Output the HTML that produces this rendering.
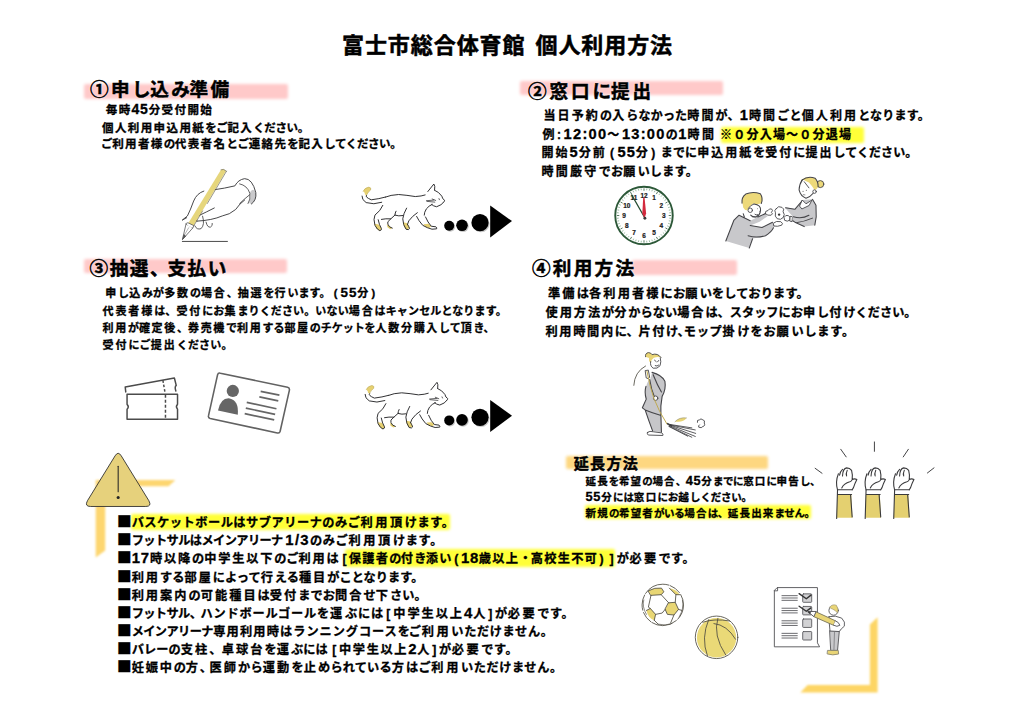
<!DOCTYPE html>
<html lang="ja">
<head>
<meta charset="utf-8">
<title>富士市総合体育館 個人利用方法</title>
<style>
html,body{margin:0;padding:0;background:#fff;}
#page{position:relative;width:1024px;height:724px;overflow:hidden;background:#fff;font-family:"Liberation Sans","Noto Sans CJK JP",sans-serif;font-weight:700;color:#000;}
.t{position:absolute;white-space:nowrap;line-height:1;margin:0;padding:0;font-weight:700;-webkit-text-stroke:0.3px #000;}
h1.t,h2.t{-webkit-text-stroke:0.5px #000;text-shadow:0 0 2px rgba(255,255,255,.9);}
.sq{font-family:"Noto Sans CJK JP",sans-serif;line-height:0;font-size:1.2em;letter-spacing:0;}
.d{font-size:1.22em;line-height:0;letter-spacing:calc(var(--l)*.5);}
.pl{margin:0 .12em 0 .28em;}.pr{margin:0 .3em 0 .12em;}.bl{margin:0 .08em 0 .26em;}.bq{margin:0 .26em 0 .08em;}
.k{letter-spacing:var(--k);}
.hl{position:absolute;border-radius:2px;}
svg.il{position:absolute;overflow:visible;}
</style>
</head>
<body>
<div id="page">
<div class="hl" style="left:83.5px;top:84.0px;width:204.0px;height:14.8px;background:#ffc9c9;filter:blur(1.6px)"></div>
<div class="hl" style="left:519.5px;top:80.5px;width:203.0px;height:14.2px;background:#ffc9c9;filter:blur(1.6px)"></div>
<div class="hl" style="left:83.5px;top:259.3px;width:203.8px;height:13.5px;background:#ffc9c9;filter:blur(1.6px)"></div>
<div class="hl" style="left:632.0px;top:260.0px;width:105.3px;height:15.0px;background:#ffc9c9;filter:blur(1.6px)"></div>
<div class="hl" style="left:721.0px;top:126.9px;width:143.0px;height:16.1px;background:#ffff38;filter:blur(1.6px)"></div>
<div class="hl" style="left:566.0px;top:455.5px;width:202.0px;height:13.7px;background:#fdd780;filter:blur(1.4px)"></div>
<div class="hl" style="left:585.0px;top:504.8px;width:226.0px;height:14.6px;background:#ffff38;filter:blur(1.6px)"></div>
<div class="hl" style="left:130.5px;top:513.8px;width:319.0px;height:16.0px;background:#ffff38;filter:blur(1.6px)"></div>
<div class="hl" style="left:345.4px;top:549.4px;width:269.6px;height:17.2px;background:#ffff38;filter:blur(1.6px)"></div>
<svg class="il" style="left:0;top:0" width="1024" height="724" viewBox="0 0 1024 724">
<g fill="#fdd670" filter="url(#soft)">
<path d="M95.7 480.1 L175.4 480.1 L168.5 486.3 L105.2 486.3 L105.2 550.5 L95.7 557.6 Z"/>
<path d="M877.6 617.2 L877.6 692.6 L800.4 692.6 L807.6 684.9 L869.9 684.9 L869.9 624.4 Z" fill="#fdd565"/>
</g>
<defs><filter id="soft" x="-5%" y="-5%" width="110%" height="110%"><feGaussianBlur stdDeviation="0.8"/></filter></defs>
</svg>
<svg class="il" style="left:75px;top:440px" width="120" height="125" viewBox="0 0 695 724">
<path d="M232 92 Q250 62 268 92 L428 352 Q446 385 410 385 L90 385 Q54 385 72 352 Z" fill="#e6d17c" stroke="#2a2a2a" stroke-width="5" stroke-linejoin="round"/>
<path d="M250 152 L250 300" stroke="#222" stroke-width="6" stroke-linecap="round" fill="none"/>
<circle cx="250" cy="333" r="9" fill="#222"/>
</svg>
<svg class="il" style="left:0;top:0" width="1024" height="724" viewBox="0 0 1024 724">
<defs><g id="dots">
<g fill="#9a9a9a" opacity=".55"><circle cx="450.2" cy="226.8" r="5"/><circle cx="463" cy="226.3" r="5.8"/><circle cx="481" cy="223.7" r="8.6"/></g>
<g fill="#000"><circle cx="449.2" cy="225.8" r="5"/><circle cx="462" cy="225.3" r="5.8"/><circle cx="480" cy="222.7" r="8.6"/>
<path d="M490.2 205.5 L490.2 237.5 L512 221.1 Z"/></g>
</g></defs>
<use href="#dots"/>
<use href="#dots" transform="translate(0 194.6)"/>
</svg>
<svg class="il" style="left:115px;top:365px" width="190" height="75" viewBox="0 0 1024 404" fill="none" stroke="#4b4b4b" stroke-width="8" stroke-linejoin="round" stroke-linecap="round">
<path d="M58 145 L55 118 L320 70 L330 110 Q320 118 328 140"/>
<path d="M258 82 L270 150" stroke-dasharray="14 10" stroke-linecap="butt"/>
<path d="M65 158 L337 158 L337 212 Q325 225 337 238 L337 292 L65 292 L65 238 Q78 225 65 212 Z" fill="#fff"/>
<path d="M272 160 L272 292" stroke-dasharray="16 11" stroke-linecap="butt"/>
<g stroke="#626262" stroke-width="8.5">
<path d="M568 44 L930 120 Q942 123 940 135 L890 357 Q887 369 875 366 L513 288 Q501 285 504 273 L553 52 Q556 41 568 44 Z" fill="#fff"/>
</g>
<g fill="#666" stroke="none">
<circle cx="635" cy="140" r="33"/>
<path d="M555 245 Q570 175 618 180 Q668 190 662 268 Z"/>
</g>
<g stroke="#666" stroke-width="9" stroke-linecap="butt">
<path d="M785 142 L886 162"/><path d="M778 172 L880 193"/><path d="M710 201 L870 236"/><path d="M705 232 L863 266"/><path d="M699 262 L858 296"/>
</g>
</svg>
<svg class="il" style="left:600px;top:175px" width="90" height="81" viewBox="0 0 804 724">
<circle cx="393" cy="362" r="257" fill="#fff" stroke="#2c5838" stroke-width="17"/>
<path d="M418.4 120.3 L416.7 136.2 M443.5 124.3 L440.2 140.0 M468.1 130.9 L463.1 146.1 M491.8 140.0 L485.3 154.6 M535.8 165.4 L526.4 178.4 M555.6 181.4 L544.9 193.3 M573.6 199.4 L561.7 210.1 M589.6 219.2 L576.6 228.6 M615.0 263.2 L600.4 269.7 M624.1 286.9 L608.9 291.9 M630.7 311.5 L615.0 314.8 M634.7 336.6 L618.8 338.3 M634.7 387.4 L618.8 385.7 M630.7 412.5 L615.0 409.2 M624.1 437.1 L608.9 432.1 M615.0 460.8 L600.4 454.3 M589.6 504.8 L576.6 495.4 M573.6 524.6 L561.7 513.9 M555.6 542.6 L544.9 530.7 M535.8 558.6 L526.4 545.6 M491.8 584.0 L485.3 569.4 M468.1 593.1 L463.1 577.9 M443.5 599.7 L440.2 584.0 M418.4 603.7 L416.7 587.8 M367.6 603.7 L369.3 587.8 M342.5 599.7 L345.8 584.0 M317.9 593.1 L322.9 577.9 M294.2 584.0 L300.7 569.4 M250.2 558.6 L259.6 545.6 M230.4 542.6 L241.1 530.7 M212.4 524.6 L224.3 513.9 M196.4 504.8 L209.4 495.4 M171.0 460.8 L185.6 454.3 M161.9 437.1 L177.1 432.1 M155.3 412.5 L171.0 409.2 M151.3 387.4 L167.2 385.7 M151.3 336.6 L167.2 338.3 M155.3 311.5 L171.0 314.8 M161.9 286.9 L177.1 291.9 M171.0 263.2 L185.6 269.7 M196.4 219.2 L209.4 228.6 M212.4 199.4 L224.3 210.1 M230.4 181.4 L241.1 193.3 M250.2 165.4 L259.6 178.4 M294.2 140.0 L300.7 154.6 M317.9 130.9 L322.9 146.1 M342.5 124.3 L345.8 140.0 M367.6 120.3 L369.3 136.2" stroke="#4f8a5e" stroke-width="5" fill="none"/>
<path d="M393.0 119.0 L393.0 141.0 M514.5 151.6 L503.5 170.6 M603.4 240.5 L584.4 251.5 M636.0 362.0 L614.0 362.0 M603.4 483.5 L584.4 472.5 M514.5 572.4 L503.5 553.4 M393.0 605.0 L393.0 583.0 M271.5 572.4 L282.5 553.4 M182.6 483.5 L201.6 472.5 M150.0 362.0 L172.0 362.0 M182.6 240.5 L201.6 251.5 M271.5 151.6 L282.5 170.6" stroke="#2c5838" stroke-width="7" fill="none"/>
<g font-family="&quot;Liberation Sans&quot;,sans-serif" font-weight="700" font-size="58" fill="#1c1c1c" stroke="#1c1c1c" stroke-width="2" text-anchor="middle">
<text x="482.0" y="227.8">1</text>
<text x="547.2" y="293.0">2</text>
<text x="571.0" y="382.0">3</text>
<text x="547.2" y="471.0">4</text>
<text x="482.0" y="536.2">5</text>
<text x="393.0" y="560.0">6</text>
<text x="304.0" y="536.2">7</text>
<text x="238.8" y="471.0">8</text>
<text x="215.0" y="382.0">9</text>
<text x="238.8" y="293.0">10</text>
<text x="304.0" y="227.8">11</text>
<text x="393.0" y="204.0">12</text>
</g>
<path d="M401 384 L283 178" stroke="#264d33" stroke-width="11" stroke-linecap="round"/>
<path d="M378 345 L386 200 L398 200 L412 345 L398 388 Z" fill="#d32a3e"/>
<circle cx="401" cy="387" r="13" fill="#3a3a3a"/>
</svg>
<svg class="il" style="left:630px;top:575px" width="120" height="95" viewBox="0 0 915 724" fill="none" stroke="#4f4c42" stroke-width="6.5" stroke-linecap="round" stroke-linejoin="round">
<!-- soccer -->
<g fill="#e8d674" stroke="none">
<path d="M140 120 Q190 92 240 100 L258 128 L238 150 L160 155 Z"/>
<path d="M295 212 L345 208 L370 262 L335 305 L285 300 L268 262 Z"/>
<path d="M125 270 L155 255 L195 300 L185 345 Q140 330 125 270 Z"/>
<path d="M300 100 Q350 105 380 150 L350 150 Z"/>
</g>
<circle cx="250" cy="228" r="158" stroke-dasharray="120 14 200 10 90 18"/>
<path d="M105 190 Q90 240 125 300 M400 190 Q415 250 375 320 M215 375 Q270 390 320 370" stroke-width="5"/>
<path d="M140 120 Q190 92 240 100 L258 128 L238 150 L160 155 Z"/>
<path d="M295 212 L345 208 L370 262 L335 305 L285 300 L268 262 Z"/>
<path d="M125 270 L155 255 L195 300 L185 345"/>
<path d="M300 100 L350 150 L380 150"/>
<path d="M160 155 L140 245 L155 255 M238 150 L295 212 M350 150 L345 208 M370 262 L395 270 M195 300 L245 290 L268 262 M335 305 L310 365 M185 345 L215 375"/>
<!-- basketball -->
<circle cx="660" cy="478" r="150" fill="#ead977" stroke="none"/>
<circle cx="660" cy="475" r="162"/>
<path d="M555 360 Q640 330 760 350 M600 340 Q540 480 590 615 M670 330 Q630 460 730 610 M640 370 Q740 380 805 490"/>
</svg>
<svg class="il" style="left:800px;top:432px" width="150" height="95" viewBox="0 0 1024 649" fill="none" stroke="#3a3a3c" stroke-width="7.5" stroke-linecap="round" stroke-linejoin="round">
<defs><g id="fist">
<path d="M255 427 L350 427 L358 585 L250 585 Z" fill="#e4d070" stroke="none"/>
<path d="M250 590 L256 395 L356 395 M345 427 L356 580 M256 427 L352 427"/>
<path d="M256 395 Q240 340 262 285 M270 295 Q275 268 290 255 M290 300 Q292 250 318 245 Q340 245 352 262 Q360 290 356 325 Q372 315 388 325 Q375 350 365 380 L356 395 M322 262 Q312 285 318 300 M285 382 Q300 350 340 340 Q352 336 356 325"/>
</g></defs>
<use href="#fist"/><use href="#fist" x="195"/><use href="#fist" x="390"/>
<path d="M278 118 L315 170 M508 68 L508 132 M740 118 L705 170 M103 248 L150 282 M915 245 L870 280" stroke-width="6.5"/>
</svg>
<svg class="il" style="left:170px;top:160px" width="100" height="90" viewBox="0 0 804 724" fill="none" stroke="#3a3a3c" stroke-width="7.5" stroke-linecap="round" stroke-linejoin="round">
<!-- cuff shading -->
<path d="M642 262 Q668 215 690 262 Q698 320 655 354 Q628 350 640 330 Q655 300 642 262 Z" fill="#c9c9cb" stroke="none"/>
<!-- back of hand + cuff -->
<path d="M352 240 Q440 228 522 208 Q548 158 600 150 Q662 150 690 262 Q698 322 655 354"/>
<path d="M560 192 Q622 205 642 268 Q650 318 628 350" stroke-width="6.5"/>
<path d="M640 280 Q590 320 560 350" stroke-width="6.5"/>
<path d="M600 322 Q560 350 528 398 Q480 440 420 450 Q340 485 215 492"/>
<!-- index finger -->
<path d="M272 250 Q215 268 190 330 Q165 400 140 450 L98 484 L134 464"/>
<!-- middle finger -->
<path d="M356 386 Q300 415 222 452 Q196 470 215 492"/>
<!-- curled fingers -->
<path d="M262 452 Q282 520 250 552 Q215 565 200 530" stroke-width="6.5"/>
<path d="M290 500 Q300 545 325 540 Q345 530 340 510" stroke-width="6.5"/>
<!-- pencil body -->
<path d="M410 78 Q432 68 450 88 L190 526 L148 506 Z" fill="#e6d67c" stroke="none"/>
<path d="M454 90 L300 350 M262 410 L192 528" stroke-width="5" stroke="#5d5a48"/>
<path d="M410 78 Q432 66 454 90" stroke-width="5" stroke="#5d5a48"/>
<!-- ferrule and tip -->
<path d="M128 515 Q150 545 182 548 L192 528 L146 506 Z" fill="#fff" stroke-width="5.5"/>
<path d="M128 518 L100 640 L182 548" fill="#fff" stroke-width="5.5"/>
<path d="M112 600 L100 640 L128 612" fill="#555" stroke-width="3"/>
<path d="M150 545 L112 610" stroke-width="3"/>
<!-- line -->
<path d="M96 655 L465 655" stroke-width="8" stroke="#4a4a4a" stroke-linecap="butt"/>
</svg>
<svg class="il" style="left:0;top:0" width="1024" height="724" viewBox="0 0 1024 724">
<defs><g id="cat" fill="none" stroke="#2c2c2e" stroke-width="10.5" stroke-linecap="round" stroke-linejoin="round">
<g fill="#e6d070" stroke="none">
<path d="M88 142 Q100 108 150 98 Q180 105 168 130 Q140 150 122 188 Q100 180 104 160 Z"/>
<path d="M738 498 L792 494 L822 520 L800 538 L760 528 Z"/>
<path d="M518 478 L566 488 L588 540 L556 558 L528 522 Z"/>
<path d="M343 498 L372 520 L402 540 L380 552 L350 532 Z"/>
<path d="M208 494 L256 500 L287 545 L266 572 L234 546 Z"/>
</g>
<path d="M88 142 Q100 108 150 98 Q180 105 168 130 Q140 150 122 188" stroke="#b9a85a" stroke-width="6"/>
<path d="M122 188 Q105 205 175 235 Q260 225 330 205"/>
<path d="M75 195 Q72 235 120 265 Q200 292 288 262"/>
<path d="M330 205 Q380 183 470 178 Q560 185 650 200 Q720 196 756 183"/>
<path d="M785 146 L850 65 Q866 80 858 130"/>
<path d="M858 132 Q905 150 936 196 Q942 228 966 240 Q965 255 955 262"/>
<path d="M955 262 Q935 292 880 310 Q845 304 826 286"/>
<path d="M832 284 Q795 300 770 332 Q745 370 746 400"/>
<path d="M770 245 L850 238 M776 252 L860 260 M832 226 L870 242" stroke-width="8"/>
<path d="M905 222 L910 234" stroke-width="8"/>
<path d="M760 420 Q785 480 822 520 L872 526 Q886 538 880 548 L830 552 Q780 540 730 510 Q685 460 664 414"/>
<path d="M672 374 Q615 412 580 462 L566 500"/>
<path d="M556 325 Q522 385 515 440 Q518 510 550 552 Q580 565 588 545 Q582 525 566 500"/>
<path d="M515 405 Q470 414 430 400 Q432 378 442 358"/>
<path d="M430 400 Q380 445 354 472 Q345 495 372 526 L402 540"/>
<path d="M385 440 Q330 436 285 446"/>
<path d="M300 295 Q275 355 215 400 Q195 440 215 510 Q240 560 268 568 Q292 560 284 544 Q262 510 250 450"/>
</g></defs>
<g transform="translate(355 178) scale(0.09277)"><use href="#cat"/></g>
<g transform="translate(358.1 376.3) scale(0.09277)"><use href="#cat"/></g>
</svg>
<svg class="il" style="left:715px;top:170px" width="120" height="85" viewBox="0 0 1022 724" fill="none" stroke="#444448" stroke-width="9" stroke-linecap="round" stroke-linejoin="round">
<!-- left person body -->
<path d="M205 385 L300 432 L365 400 L425 372 L448 395 L380 440 L300 472 L400 490 L490 445 L508 480 Q470 545 400 570 L320 584 L292 665 L92 605 L160 430 Z" fill="#c8c8cb" stroke="none"/>
<path d="M205 385 L160 430 L92 605 M320 586 L292 665 M300 472 L400 490 L490 445 M282 560 Q350 582 430 560 Q480 530 498 492 M205 385 L300 432 M240 372 L250 400 M365 400 L428 372"/>
<!-- left head -->
<path d="M300 300 Q350 280 385 320 Q392 360 362 396 Q325 408 302 372 Z" fill="#fff" stroke="none"/>
<path d="M236 292 Q220 250 250 212 Q310 182 382 200 Q412 235 400 276 Q372 300 330 286 Q296 300 276 342 Q255 348 240 320 Z" fill="#edd97a" stroke="none"/>
<path d="M230 282 Q224 232 262 205 Q320 180 386 202 Q412 240 394 286" />
<path d="M332 290 Q392 298 388 342 Q384 382 356 398 Q326 408 304 384"/>
<circle cx="300" cy="343" r="19" fill="#fff" stroke-width="7.5"/>
<path d="M330 290 Q300 300 285 325 M320 398 Q350 408 368 385 M340 378 Q350 388 362 380" stroke-width="7.5"/>
<circle cx="362" cy="330" r="4" fill="#555" stroke="none"/><circle cx="380" cy="352" r="4" fill="#555" stroke="none"/>
<!-- hands + object -->
<g fill="#fff" stroke-width="7.5">
<path d="M428 372 Q425 345 452 345 Q462 325 482 332 Q498 345 480 362 Q500 372 478 385 Q450 392 428 372 Z"/>
<path d="M498 452 Q520 430 560 440 Q585 455 568 470 Q530 485 505 478 Z"/>
<path d="M520 330 Q540 300 570 318 Q595 330 580 355 Q600 380 580 405 Q560 430 530 415 Q505 395 515 365 Q500 345 520 330 Z"/>
<path d="M590 400 Q600 380 625 388 Q645 400 640 425 Q615 445 595 430 Z"/>
<path d="M642 395 L660 398 L656 440 L640 436 Z"/>
</g>
<circle cx="546" cy="380" r="10" fill="#333" stroke="none"/>
<!-- right person body -->
<path d="M745 255 L830 250 L860 300 L862 400 L850 470 L760 482 L690 450 L662 432 L660 395 L600 325 L606 318 L680 335 Z" fill="#c8c8cb" stroke="none"/>
<path d="M830 250 L860 300 L862 400 L850 470 M760 482 L690 450 L662 432 M600 322 L680 335 L742 262 M668 398 Q740 420 800 385 M690 450 Q760 440 830 410" />
<path d="M745 258 L775 288 L826 256 L802 302 L740 332 L722 310 Z" fill="#fff" stroke-width="7.5"/>
<!-- right head -->
<path d="M745 80 Q715 120 715 170 Q730 225 775 240 Q815 228 838 195 L850 120 L790 70 Z" fill="#fff" stroke="none"/>
<circle cx="897" cy="120" r="30" fill="#edd97a" stroke-width="7.5"/>
<path d="M745 76 Q790 50 850 70 Q884 105 876 150 Q862 172 848 170 Q832 140 800 106 Q772 96 745 76 Z" fill="#edd97a" stroke="none"/>
<path d="M738 88 Q790 48 852 70 Q880 100 878 140"/>
<path d="M745 82 Q718 120 716 170 Q730 225 775 240 Q812 230 836 198" />
<circle cx="848" cy="184" r="15" fill="#fff" stroke-width="7.5"/>
<path d="M760 100 L800 152" stroke-width="7.5"/>
<circle cx="750" cy="182" r="4.5" fill="#555" stroke="none"/><circle cx="778" cy="172" r="4.5" fill="#555" stroke="none"/>
<path d="M752 210 L766 212" stroke-width="5"/>
</svg>
<svg class="il" style="left:620px;top:345px" width="100" height="100" viewBox="0 0 724 724" fill="none" stroke="#444448" stroke-width="8" stroke-linecap="round" stroke-linejoin="round">
<!-- motion arc -->
<path d="M100 292 Q105 195 185 152" stroke="#66645a" stroke-width="7"/>
<!-- body -->
<path d="M232 198 Q300 215 325 262 Q335 320 305 372 Q292 440 296 505 L300 632 L236 622 Q205 540 182 470 L162 455 L190 392 Q175 340 188 300 Q200 260 222 240 Z" fill="#c6c6c9" stroke="none"/>
<path d="M232 198 Q300 215 325 262 Q335 320 305 372 Q292 440 296 505 L300 632 M236 622 Q205 540 182 470 L162 455 L190 392 Q175 340 188 300 M240 215 Q270 290 300 340 M215 250 Q225 320 250 378 M182 470 Q230 490 292 508"/>
<!-- head -->
<circle cx="252" cy="125" r="42" fill="#fff" stroke="none"/>
<path d="M185 85 Q180 60 205 55 Q225 55 232 70 Q270 55 298 90 Q270 82 245 92 Q225 105 222 130 Q205 115 210 95 Z" fill="#e9d576" stroke="none"/>
<path d="M185 85 Q180 60 205 55 Q225 55 232 70 Q272 55 298 92" stroke-width="6.5"/>
<path d="M222 120 Q215 150 240 168 Q270 175 290 150 Q300 120 292 95" stroke-width="6.5"/>
<path d="M250 110 L262 120 M280 112 L272 122 M255 150 Q268 158 280 146" stroke-width="6.5"/>
<!-- hand on handle -->
<path d="M185 185 L205 182 L215 235 Q205 250 192 240 Z" fill="#fff" stroke-width="6.5"/>
<circle cx="258" cy="385" r="16" fill="#fff" stroke-width="6.5"/>
<!-- broom handle -->
<path d="M195 190 Q215 300 245 385 Q280 480 340 572" stroke="#bfa94e" stroke-width="7"/>
<!-- feet -->
<path d="M200 632 Q215 620 240 628 L300 636 Q318 645 310 655 L205 652 Q192 645 200 632 Z" fill="#fff" stroke-width="6.5"/>
<!-- broom head -->
<path d="M345 570 L372 585" stroke="#444" stroke-width="12"/>
<path d="M360 578 L545 615 M360 580 L548 640 M358 584 L545 662 M356 588 L520 668 M354 590 L490 660 M365 576 L520 600" stroke="#3c3c40" stroke-width="6"/>
<!-- leaf -->
<path d="M398 555 Q430 520 480 528 Q465 555 420 556 Z" fill="#e9d576" stroke="none"/>
<path d="M398 555 Q430 520 482 528" stroke="#8a8670" stroke-width="4"/>
<!-- dust -->
<path d="M560 560 Q555 540 575 542 Q585 528 600 542 Q618 545 610 565 Q620 585 600 590 Q590 605 570 595 Q565 585 575 578" stroke-width="6.5"/>
</svg>
<svg class="il" style="left:760px;top:575px" width="140" height="130" viewBox="0 0 780 724" fill="none" stroke="#505054" stroke-width="5" stroke-linecap="round" stroke-linejoin="round">
<path d="M98 70 L320 70 L320 378 L332 400 L80 400 L80 88 Z" fill="#fff"/>
<path d="M80 88 L98 88 L98 70" stroke-width="5"/>
<g stroke="#5a5a5e" stroke-width="5" stroke-linecap="butt">
<path d="M120 115 H210 M120 128 H210 M120 141 H210 M120 185 H210 M120 198 H210 M120 211 H210 M120 255 H210 M120 268 H210 M120 281 H210 M120 325 H210 M120 338 H210 M120 351 H210"/>
</g>
<g fill="#d2d2d4" stroke="#5a5a5e" stroke-width="5">
<rect x="238" y="105" width="50" height="47" rx="4"/><rect x="238" y="175" width="50" height="47" rx="4"/><rect x="238" y="245" width="50" height="47" rx="4"/><rect x="238" y="315" width="50" height="47" rx="4"/>
</g>
<path d="M218 104 L258 132 L284 112 M218 174 L258 202 L282 184" stroke="#333" stroke-width="8"/>
<!-- person -->
<path d="M390 310 L442 312 L432 420 L396 420 Z" fill="#c9c9cc" stroke-width="5"/>
<path d="M415 320 L412 415" stroke-width="3"/>
<path d="M385 232 Q420 222 455 240 Q478 262 470 285 Q450 300 442 315 L390 312 Q385 270 385 232 Z" fill="#fff" stroke-width="5"/>
<path d="M378 420 L436 420 L438 440 Q405 450 376 440 Z" fill="#e9d576" stroke="#8a8670" stroke-width="5"/>
<circle cx="410" cy="198" r="26" fill="#fff" stroke-width="5"/>
<path d="M388 180 Q400 160 425 168 Q440 185 432 212 Q420 195 405 190 Q395 188 388 180 Z" fill="#e9d576" stroke="#8a8670" stroke-width="3"/>
<!-- big pencil -->
<path d="M312 205 L420 255 L410 280 L300 232 Z" fill="#e9d576" stroke="#77735a" stroke-width="5"/>
<path d="M312 205 L300 232 L268 205 Z" fill="#fff" stroke-width="5"/>
<path d="M268 205 L282 207 L278 215 Z" fill="#333" stroke="#333" stroke-width="3"/>
<path d="M420 255 Q440 262 445 280 Q430 292 410 280" fill="#fff" stroke-width="5"/>
</svg>
<h1 class="t" id="title" style="left:342.00px;top:34.90px;font-size:22px;letter-spacing:0.929px;--l:0.929px;--k:-2.213px;word-spacing:3px;">富士市総合体育館 個人利用方法</h1>
<h2 class="t" id="h1" style="left:90.00px;top:81.33px;font-size:18.6px;letter-spacing:2.445px;--l:2.445px;--k:-0.438px;">①申<span class="k">し</span>込<span class="k">み</span>準備</h2>
<h2 class="t" id="h2" style="left:528.00px;top:82.63px;font-size:18.6px;letter-spacing:2.879px;--l:2.879px;--k:-0.064px;">②窓口<span class="k">に</span>提出</h2>
<h2 class="t" id="h3" style="left:89.50px;top:259.53px;font-size:18.6px;letter-spacing:1.572px;--l:1.572px;--k:-1.192px;">③抽選<span class="k">、</span>支払<span class="k">い</span></h2>
<h2 class="t" id="h4" style="left:532.00px;top:260.13px;font-size:18.6px;letter-spacing:2.250px;--l:2.250px;--k:-0.606px;">④利用方法</h2>
<p class="t" id="a1" style="left:105.75px;top:105.33px;font-size:11.5px;letter-spacing:1.429px;--l:1.429px;--k:-0.343px;">毎時<span class="d">45</span>分受付開始</p>
<p class="t" id="a2" style="left:102.00px;top:122.83px;font-size:11.5px;letter-spacing:1.396px;--l:1.396px;--k:-0.371px;">個人利用申込用紙<span class="k">をご</span>記入<span class="k">ください。</span></p>
<p class="t" id="a3" style="left:101.00px;top:138.57px;font-size:11.5px;letter-spacing:1.387px;--l:1.387px;--k:-0.379px;"><span class="k">ご</span>利用者様<span class="k">の</span>代表者名<span class="k">とご</span>連絡先<span class="k">を</span>記入<span class="k">してください。</span></p>
<p class="t" id="b1" style="left:543.40px;top:110.20px;font-size:12px;letter-spacing:2.136px;--l:2.136px;--k:0.200px;">当日予約<span class="k">の</span>入<span class="k">らなかった</span>時間<span class="k">が、</span><span class="d">1</span>時間<span class="k">ごと</span>個人利用<span class="k">となります。</span></p>
<p class="t" id="b2" style="left:542.50px;top:129.00px;font-size:12px;letter-spacing:2.535px;--l:2.535px;--k:0.543px;">例:<span class="d">12:00</span>～<span class="d">13:00</span><span class="k">の</span><span class="d">1</span>時間</p>
<p class="t" id="b2b" style="left:720.00px;top:129.00px;font-size:12px;letter-spacing:1.222px;--l:1.222px;--k:-0.589px;">※０分入場～０分退場</p>
<p class="t" id="b3" style="left:541.50px;top:147.00px;font-size:12px;letter-spacing:2.011px;--l:2.011px;--k:0.092px;">開始<span class="d">5</span>分前<span class="pl">(</span><span class="d">55</span>分<span class="pr">)</span><span class="k">までに</span>申込用紙<span class="k">を</span>受付<span class="k">に</span>提出<span class="k">してください。</span></p>
<p class="t" id="b4" style="left:541.50px;top:165.60px;font-size:12px;letter-spacing:2.291px;--l:2.291px;--k:0.333px;">時間厳守<span class="k">でお</span>願<span class="k">いします。</span></p>
<p class="t" id="c1" style="left:105.25px;top:288.05px;font-size:11px;letter-spacing:1.842px;--l:1.842px;--k:0.083px;">申<span class="k">し</span>込<span class="k">みが</span>多数<span class="k">の</span>場合<span class="k">、</span>抽選<span class="k">を</span>行<span class="k">います。</span><span class="pl">(</span><span class="d">55</span>分<span class="pr">)</span></p>
<p class="t" id="c2" style="left:102.50px;top:306.30px;font-size:11px;letter-spacing:1.906px;--l:1.906px;--k:0.137px;">代表者様<span class="k">は、</span>受付<span class="k">にお</span>集<span class="k">まりください。いない</span>場合<span class="k">はキャンセルとなります。</span></p>
<p class="t" id="c3" style="left:102.50px;top:323.05px;font-size:11px;letter-spacing:1.703px;--l:1.703px;--k:-0.037px;">利用<span class="k">が</span>確定後<span class="k">、</span>券売機<span class="k">で</span>利用<span class="k">する</span>部屋<span class="k">のチケットを</span>人数分購入<span class="k">して</span>頂<span class="k">き、</span></p>
<p class="t" id="c4" style="left:102.50px;top:339.55px;font-size:11px;letter-spacing:1.991px;--l:1.991px;--k:0.211px;">受付<span class="k">にご</span>提出<span class="k">ください。</span></p>
<p class="t" id="d1" style="left:548.00px;top:288.26px;font-size:12.2px;letter-spacing:2.132px;--l:2.132px;--k:0.168px;">準備<span class="k">は</span>各利用者様<span class="k">にお</span>願<span class="k">いをしております。</span></p>
<p class="t" id="d2" style="left:545.50px;top:306.51px;font-size:12.2px;letter-spacing:1.940px;--l:1.940px;--k:0.003px;">使用方法<span class="k">が</span>分<span class="k">からない</span>場合<span class="k">は、スタッフにお</span>申<span class="k">し</span>付<span class="k">けください。</span></p>
<p class="t" id="d3" style="left:545.50px;top:325.76px;font-size:12.2px;letter-spacing:1.672px;--l:1.672px;--k:-0.229px;">利用時間内<span class="k">に、</span>片付<span class="k">け、</span></p>
<p class="t" id="d3b" style="left:683.70px;top:325.76px;font-size:12.2px;letter-spacing:2.821px;--l:2.821px;--k:0.763px;"><span class="k">モップ</span>掛<span class="k">けをお</span>願<span class="k">いします。</span></p>
<h2 class="t" id="eh" style="left:573.75px;top:456.25px;font-size:15px;letter-spacing:1.333px;--l:1.333px;--k:-0.904px;">延長方法</h2>
<p class="t" id="e1" style="left:585.50px;top:475.77px;font-size:10.5px;letter-spacing:1.172px;--l:1.172px;--k:-0.427px;">延長<span class="k">を</span>希望<span class="k">の</span>場合<span class="k">、</span><span class="d">45</span>分<span class="k">までに</span>窓口<span class="k">に</span>申告<span class="k">し、</span></p>
<p class="t" id="e2" style="left:585.50px;top:492.27px;font-size:10.5px;letter-spacing:1.425px;--l:1.425px;--k:-0.209px;"><span class="d">55</span>分<span class="k">には</span>窓口<span class="k">にお</span>越<span class="k">しください。</span></p>
<p class="t" id="e3" style="left:585.50px;top:507.77px;font-size:10.5px;letter-spacing:1.181px;--l:1.181px;--k:-0.419px;">新規<span class="k">の</span>希望者<span class="k">がいる</span>場合<span class="k">は、</span>延長出来<span class="k">ません。</span></p>
<p class="t" id="n1" style="left:117.00px;top:516.51px;font-size:12.2px;letter-spacing:2.547px;--l:2.547px;--k:0.527px;"><span class="sq">■</span><span class="k">バスケットボールはサブアリーナのみご</span>利用頂<span class="k">けます。</span></p>
<p class="t" id="n2" style="left:117.00px;top:534.51px;font-size:12.2px;letter-spacing:1.284px;--l:1.284px;--k:-0.564px;"><span class="sq">■</span><span class="k">フットサルはメインアリーナ</span></p>
<p class="t" id="n2b" style="left:285.30px;top:534.51px;font-size:12.2px;letter-spacing:2.662px;--l:2.662px;--k:0.626px;"><span class="d">1/3</span><span class="k">のみご</span>利用頂<span class="k">けます。</span></p>
<p class="t" id="n3" style="left:117.00px;top:552.76px;font-size:12.2px;letter-spacing:1.827px;--l:1.827px;--k:-0.095px;"><span class="sq">■</span><span class="d">17</span>時以降<span class="k">の</span>中学生以下<span class="k">のご</span>利用<span class="k">は</span></p>
<p class="t" id="n3b" style="left:339.30px;top:552.76px;font-size:12.2px;letter-spacing:1.261px;--l:1.261px;--k:-0.583px;"><span class="bl">[</span>保護者<span class="k">の</span>付<span class="k">き</span>添<span class="k">い</span><span class="pl">(</span><span class="d">18</span>歳以上<span class="k">・</span>高校生不可<span class="pr">)</span><span class="bq">]</span></p>
<p class="t" id="n3c" style="left:616.80px;top:552.76px;font-size:12.2px;letter-spacing:2.381px;--l:2.381px;--k:0.383px;"><span class="k">が</span>必要<span class="k">です。</span></p>
<p class="t" id="n4" style="left:117.00px;top:571.51px;font-size:12.2px;letter-spacing:1.970px;--l:1.970px;--k:0.029px;"><span class="sq">■</span>利用<span class="k">する</span>部屋<span class="k">によって</span>行<span class="k">える</span>種目<span class="k">がことなります。</span></p>
<p class="t" id="n5" style="left:117.00px;top:589.51px;font-size:12.2px;letter-spacing:2.022px;--l:2.022px;--k:0.074px;"><span class="sq">■</span>利用案内<span class="k">の</span>可能種目<span class="k">は</span>受付<span class="k">までお</span>問合<span class="k">せ</span>下<span class="k">さい。</span></p>
<p class="t" id="n6" style="left:117.00px;top:607.51px;font-size:12.2px;letter-spacing:1.275px;--l:1.275px;--k:-0.571px;"><span class="sq">■</span><span class="k">フットサル、</span></p>
<p class="t" id="n6b" style="left:200.50px;top:607.51px;font-size:12.2px;letter-spacing:2.852px;--l:2.852px;--k:0.790px;"><span class="k">ハンドボールゴールを</span>運<span class="k">ぶには</span></p>
<p class="t" id="n6c" style="left:383.10px;top:607.51px;font-size:12.2px;letter-spacing:1.947px;--l:1.947px;--k:0.009px;"><span class="bl">[</span>中学生以上<span class="d">4</span>人<span class="bq">]</span></p>
<p class="t" id="n6d" style="left:495.00px;top:607.51px;font-size:12.2px;letter-spacing:2.561px;--l:2.561px;--k:0.538px;"><span class="k">が</span>必要<span class="k">です。</span></p>
<p class="t" id="n7" style="left:117.00px;top:625.76px;font-size:12.2px;letter-spacing:1.258px;--l:1.258px;--k:-0.586px;"><span class="sq">■</span><span class="k">メインアリーナ</span></p>
<p class="t" id="n7b" style="left:213.20px;top:625.76px;font-size:12.2px;letter-spacing:1.193px;--l:1.193px;--k:-0.642px;">専用利用時<span class="k">は</span></p>
<p class="t" id="n7c" style="left:293.30px;top:625.76px;font-size:12.2px;letter-spacing:3.015px;--l:3.015px;--k:0.930px;"><span class="k">ランニングコースを</span></p>
<p class="t" id="n7d" style="left:408.80px;top:625.76px;font-size:12.2px;letter-spacing:2.669px;--l:2.669px;--k:0.632px;"><span class="k">ご</span>利用<span class="k">いただけません。</span></p>
<p class="t" id="n8" style="left:117.00px;top:644.01px;font-size:12.2px;letter-spacing:2.063px;--l:2.063px;--k:0.109px;"><span class="sq">■</span><span class="k">バレーの</span>支柱<span class="k">、</span>卓球台<span class="k">を</span>運<span class="k">ぶには</span></p>
<p class="t" id="n8b" style="left:329.00px;top:644.01px;font-size:12.2px;letter-spacing:1.680px;--l:1.680px;--k:-0.222px;"><span class="bl">[</span>中学生以上<span class="d">2</span>人<span class="bq">]</span></p>
<p class="t" id="n8c" style="left:439.10px;top:644.01px;font-size:12.2px;letter-spacing:2.561px;--l:2.561px;--k:0.538px;"><span class="k">が</span>必要<span class="k">です。</span></p>
<p class="t" id="n9" style="left:117.00px;top:662.01px;font-size:12.2px;letter-spacing:1.816px;--l:1.816px;--k:-0.104px;"><span class="sq">■</span>妊娠中<span class="k">の</span>方<span class="k">、</span></p>
<p class="t" id="n9b" style="left:209.50px;top:662.01px;font-size:12.2px;letter-spacing:2.113px;--l:2.113px;--k:0.152px;">医師<span class="k">から</span>運動<span class="k">を</span>止<span class="k">められている</span>方<span class="k">は</span></p>
<p class="t" id="n9c" style="left:418.60px;top:662.01px;font-size:12.2px;letter-spacing:2.601px;--l:2.601px;--k:0.573px;"><span class="k">ご</span>利用<span class="k">いただけません。</span></p>
</div>
</body>
</html>
